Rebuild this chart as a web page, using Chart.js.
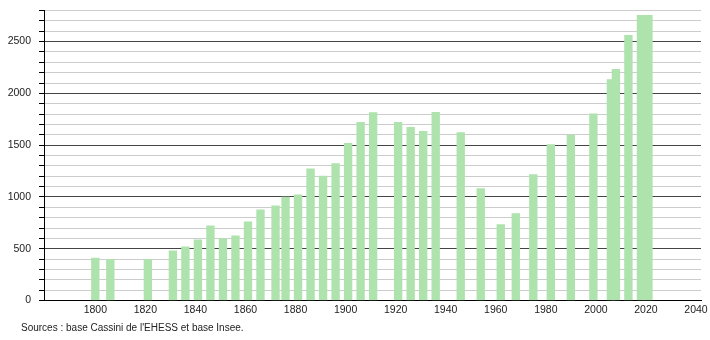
<!DOCTYPE html>
<html>
<head>
<meta charset="utf-8">
<script src="https://cdn.jsdelivr.net/npm/chart.js@4/dist/chart.umd.min.js"></script>
<style>
  html, body { margin: 0; padding: 0; background: #fff; }
  #wrap { width: 710px; height: 340px; position: relative; }
</style>
</head>
<body>
<div id="wrap"><canvas id="population"></canvas></div>
<script>
// census years and population
const years = [1800, 1806, 1821, 1831, 1836, 1841, 1846, 1851, 1856, 1861, 1866,
    1872, 1876, 1881, 1886, 1891, 1896, 1901, 1906, 1911, 1921, 1926, 1931, 1936,
    1946, 1954, 1962, 1968, 1975, 1982, 1990, 1999, 2006, 2008, 2013, 2018, 2021];
const population = [410, 398, 398, 479, 518, 586, 721, 598, 624, 759, 875,
    914, 999, 1021, 1272, 1202, 1322, 1517, 1720, 1815, 1720, 1672, 1633, 1816,
    1621, 1080, 733, 839, 1215, 1505, 1598, 1802, 2134, 2231, 2560, 2754, 2754];
const xTickLabels = [1800, 1820, 1840, 1860, 1880, 1900, 1920, 1940, 1960, 1980, 2000, 2020, 2040];
const yTickLabels = [0, 500, 1000, 1500, 2000, 2500];
const sourceText = "Sources : base Cassini de l'EHESS et base Insee.";

const FONT = "'Liberation Sans', Arial, Helvetica, sans-serif";

const sourcePlugin = {
    id: 'sourceText',
    afterDraw(chart) {
        const ctx = chart.ctx;
        ctx.save();
        ctx.font = '10px ' + FONT;
        ctx.fillStyle = '#222';
        ctx.textBaseline = 'middle';
        ctx.fillText(sourceText, 21, 328);
        ctx.restore();
    }
};

const points = years.map((y, i) => ({x: y, y: population[i]}));

const config = {
    type: 'bar',
    data: {
        datasets: [{
            data: points,
            backgroundColor: '#aee3ae',
            borderWidth: 0,
            barThickness: 7.7
        }]
    },
    options: {
        responsive: true,
        maintainAspectRatio: false,
        animation: false,
        layout: { padding: { left: 0, right: 9, top: 10.5, bottom: 0 } },
        plugins: {
            legend: { display: false },
            tooltip: { enabled: false }
        },
        scales: {
            x: {
                type: 'linear',
                offset: false,
                min: 1779.5,
                max: 2042,
                grid: { display: false, drawTicks: false, offset: false },
                border: { display: true, color: '#000', width: 1 },
                ticks: {
                    stepSize: 20,
                    includeBounds: false,
                    autoSkip: false,
                    maxRotation: 0,
                    padding: 3,
                    color: '#222',
                    font: { family: FONT, size: 10.5 },
                    callback: v => xTickLabels.includes(v) ? String(v) : ''
                },
                afterFit(scale) { scale.height = 39.5; scale.paddingLeft = 0; scale.paddingRight = 0; }
            },
            y: {
                min: 0,
                max: 2800,
                grid: {
                    color: c => (c.tick && c.tick.value % 500 === 0) ? '#444' : '#cccccc',
                    tickColor: '#000',
                    tickLength: 5,
                    lineWidth: 1
                },
                border: { display: true, color: '#000', width: 1 },
                ticks: {
                    stepSize: 100,
                    autoSkip: false,
                    padding: 8,
                    color: '#222',
                    font: { family: FONT, size: 10.5 },
                    callback: v => yTickLabels.includes(v) ? String(v) : ''
                },
                afterFit(scale) { scale.width = 44; scale.paddingTop = 0; scale.paddingBottom = 0; }
            }
        }
    },
    plugins: [sourcePlugin]
};

const ctx = document.getElementById('population').getContext('2d');
const chart = new Chart(ctx, config);
</script>
</body>
</html>
